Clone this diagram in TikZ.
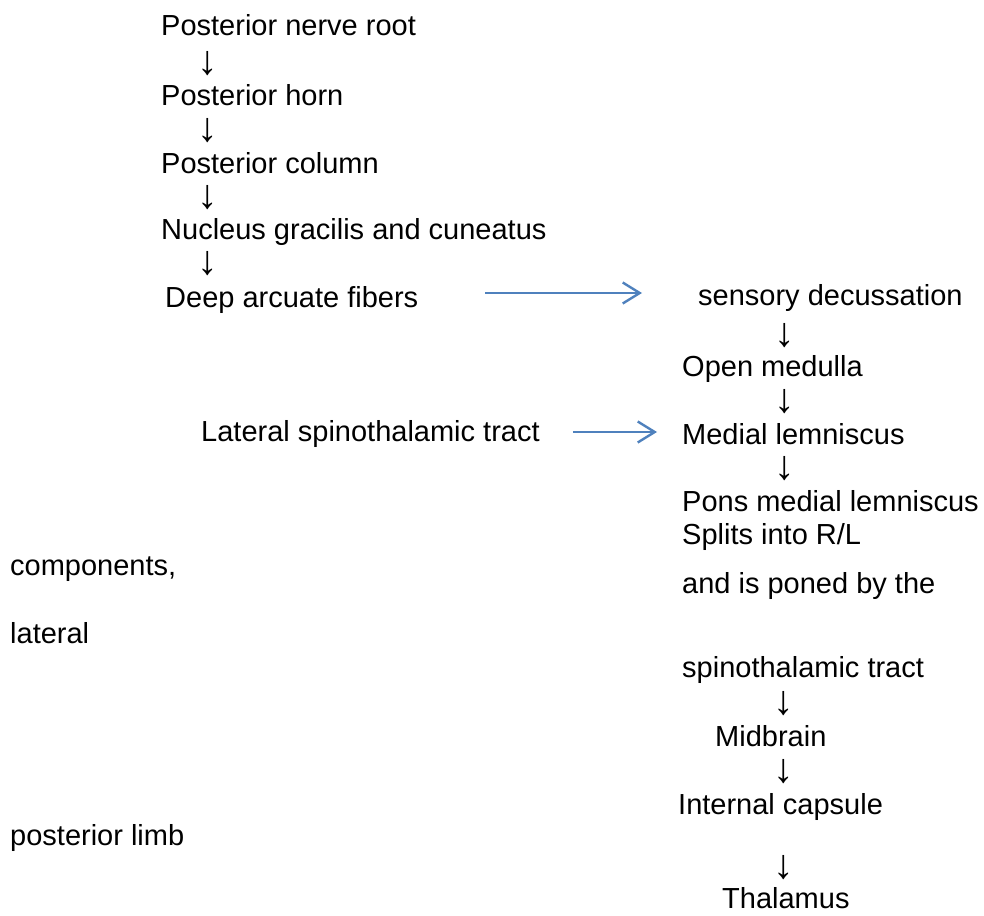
\documentclass[tikz,border=0pt]{standalone}
\usepackage{fontspec}
\setmainfont{Liberation Sans}
\usetikzlibrary{arrows.meta}
\definecolor{arrowblue}{HTML}{4F81BD}
\tikzset{
  lbl/.style={anchor=base west, inner sep=0pt, text height=21pt, text depth=6pt, font=\fontsize{29}{34}\selectfont},
  dn/.style={anchor=center, inner sep=0pt, font=\fontsize{41}{48}\selectfont},
  barrow/.style={draw=arrowblue, line width=2.4pt, -{Straight Barb[length=17pt,width=21pt,line width=2.4pt]}}
}
\begin{document}
\begin{tikzpicture}[x=1pt,y=-1pt]
\useasboundingbox (0,0) rectangle (984,915);
% left column
\node[lbl] (pnr) at (161,36) {Posterior nerve root};
\node[dn] (d1) at (208,64) {↓};
\node[lbl] (ph) at (161,106) {Posterior horn};
\node[dn] (d2) at (208,131) {↓};
\node[lbl] (pc) at (161,173) {Posterior column};
\node[dn] (d3) at (208,198) {↓};
\node[lbl] (ngc) at (161,239) {Nucleus gracilis and cuneatus};
\node[dn] (d4) at (208,264) {↓};
\node[lbl] (deep) at (165,307) {Deep arcuate fibers};
\node[lbl] (lst) at (201,441) {Lateral spinothalamic tract};
\node[lbl] (comp) at (10,575) {components,};
\node[lbl] (lat) at (10,643) {lateral};
\node[lbl] (plimb) at (10,845) {posterior limb};
% right column
\node[lbl] (sens) at (698,305) {sensory decussation};
\node[dn] (r1) at (785,336) {↓};
\node[lbl] (om) at (682,376) {Open medulla};
\node[dn] (r2) at (785,402) {↓};
\node[lbl] (ml) at (682,444) {Medial lemniscus};
\node[dn] (r3) at (785,469) {↓};
\node[lbl] (pons) at (682,511) {Pons medial lemniscus};
\node[lbl] (split) at (682,544) {Splits into R/L};
\node[lbl] (poned) at (682,593) {and is poned by the};
\node[lbl] (stt) at (682,677) {spinothalamic tract};
\node[dn] (r4) at (784,704) {↓};
\node[lbl] (mid) at (715,746) {Midbrain};
\node[dn] (r5) at (784,772) {↓};
\node[lbl] (ic) at (678,814) {Internal capsule};
\node[dn] (r6) at (784,868) {↓};
\node[lbl] (thal) at (722,908) {Thalamus};
% blue arrows
\draw[barrow, shorten <=67pt, shorten >=56pt] ([yshift=6.5pt]deep.east) -- ([yshift=6.5pt]deep.east -| sens.west);
\draw[barrow, shorten <=33pt, shorten >=25pt] ([yshift=1.5pt]lst.east) -- ([yshift=1.5pt]lst.east -| ml.west);
\end{tikzpicture}
\end{document}
